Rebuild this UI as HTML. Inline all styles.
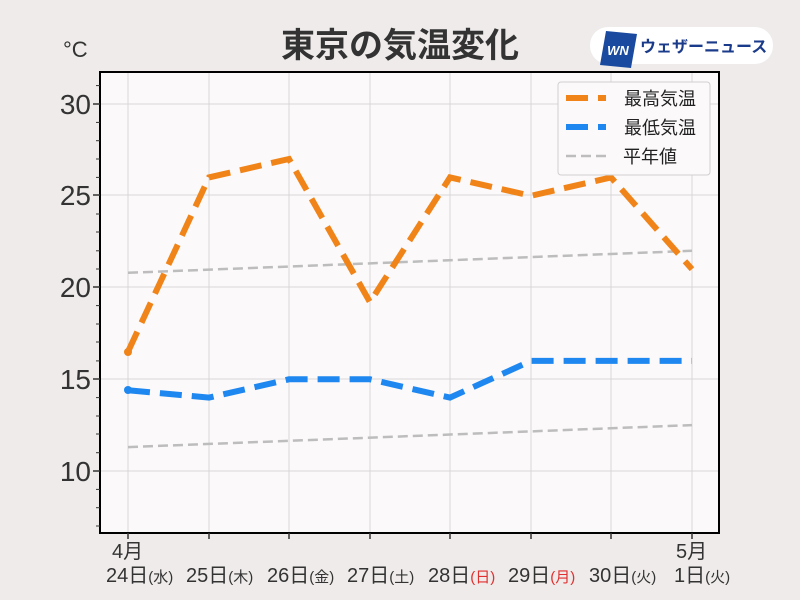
<!DOCTYPE html>
<html><head><meta charset="utf-8"><style>
body{margin:0;background:#eeebea;}
svg{display:block;font-family:"Liberation Sans","Noto Sans CJK JP",sans-serif;}
</style></head><body>
<svg width="800" height="600" viewBox="0 0 800 600">
<rect width="800" height="600" fill="#eeebea"/>
<text x="400" y="57" text-anchor="middle" font-size="34" font-weight="bold" fill="#333">東京の気温変化</text>
<rect x="590" y="27" width="183" height="37" rx="18" fill="#fff"/>
<polygon points="606,31 637,34 631,68 600,65" fill="#1a4aa0"/>
<text x="618" y="55" text-anchor="middle" font-size="13" font-weight="bold" font-style="italic" fill="#fff">WN</text>
<text x="640" y="52" font-size="16" font-weight="bold" fill="#1a3a8a">ウェザーニュース</text>
<text x="63" y="57" font-size="22" fill="#333">°C</text>
<rect x="100" y="72" width="619" height="461" fill="#fbf9fa"/>
<g stroke="#d8d8d8" stroke-width="1">
<line x1="128" y1="72" x2="128" y2="533"/><line x1="209" y1="72" x2="209" y2="533"/><line x1="289" y1="72" x2="289" y2="533"/><line x1="370" y1="72" x2="370" y2="533"/><line x1="450" y1="72" x2="450" y2="533"/><line x1="531" y1="72" x2="531" y2="533"/><line x1="611" y1="72" x2="611" y2="533"/><line x1="692" y1="72" x2="692" y2="533"/>
<line x1="100" y1="104" x2="719" y2="104"/><line x1="100" y1="195" x2="719" y2="195"/><line x1="100" y1="287" x2="719" y2="287"/><line x1="100" y1="379" x2="719" y2="379"/><line x1="100" y1="471" x2="719" y2="471"/>
</g>
<g fill="none" stroke="#bdbdbd" stroke-width="2.5" stroke-dasharray="10,5">
<polyline points="128,272.8 692,250.8"/><polyline points="128,447.1 692,425.1"/>
</g>
<polyline fill="none" stroke="#f08418" stroke-width="6" stroke-dasharray="22,10" points="128,351.7 209,177.4 289,159 370,302.2 450,177.4 531,195.8 611,177.4 692,269.2"/>
<circle cx="128" cy="352" r="4" fill="#f08418"/>
<polyline fill="none" stroke="#1e88f0" stroke-width="6" stroke-dasharray="22,10" points="128,390.3 209,397.6 289,379.3 370,379.3 450,397.6 531,360.9 611,360.9 692,360.9"/>
<circle cx="128" cy="390" r="4" fill="#1e88f0"/>
<rect x="100" y="72" width="619" height="461" fill="none" stroke="#000" stroke-width="2"/>
<g stroke="#333" stroke-width="1.5">
<line x1="93" y1="104" x2="100" y2="104"/><line x1="93" y1="195" x2="100" y2="195"/><line x1="93" y1="287" x2="100" y2="287"/><line x1="93" y1="379" x2="100" y2="379"/><line x1="93" y1="471" x2="100" y2="471"/>
</g>
<g stroke="#333" stroke-width="1">
<line x1="96" y1="85.6" x2="100" y2="85.6"/><line x1="96" y1="122.4" x2="100" y2="122.4"/><line x1="96" y1="140.7" x2="100" y2="140.7"/><line x1="96" y1="159" x2="100" y2="159"/><line x1="96" y1="177.4" x2="100" y2="177.4"/>
<line x1="96" y1="214" x2="100" y2="214"/><line x1="96" y1="232" x2="100" y2="232"/><line x1="96" y1="250.8" x2="100" y2="250.8"/><line x1="96" y1="269" x2="100" y2="269"/>
<line x1="96" y1="305.6" x2="100" y2="305.6"/><line x1="96" y1="324" x2="100" y2="324"/><line x1="96" y1="342" x2="100" y2="342"/><line x1="96" y1="360.9" x2="100" y2="360.9"/>
<line x1="96" y1="397.6" x2="100" y2="397.6"/><line x1="96" y1="416" x2="100" y2="416"/><line x1="96" y1="434" x2="100" y2="434"/><line x1="96" y1="452.7" x2="100" y2="452.7"/>
<line x1="96" y1="489.4" x2="100" y2="489.4"/><line x1="96" y1="507.7" x2="100" y2="507.7"/><line x1="96" y1="526" x2="100" y2="526"/>
</g>
<g stroke="#333" stroke-width="1.5">
<line x1="128" y1="533" x2="128" y2="539"/><line x1="209" y1="533" x2="209" y2="539"/><line x1="289" y1="533" x2="289" y2="539"/><line x1="370" y1="533" x2="370" y2="539"/><line x1="450" y1="533" x2="450" y2="539"/><line x1="531" y1="533" x2="531" y2="539"/><line x1="611" y1="533" x2="611" y2="539"/><line x1="692" y1="533" x2="692" y2="539"/>
</g>
<g font-size="28" fill="#333" text-anchor="end">
<text x="91" y="114">30</text><text x="91" y="205">25</text><text x="91" y="297">20</text><text x="91" y="389">15</text><text x="91" y="481">10</text>
</g>
<g font-size="20" fill="#333">
<text x="112" y="558">4月</text><text x="676" y="558">5月</text>
<text x="106" y="582">24日<tspan font-size="15">(水)</tspan></text>
<text x="186" y="582">25日<tspan font-size="15">(木)</tspan></text>
<text x="267" y="582">26日<tspan font-size="15">(金)</tspan></text>
<text x="347" y="582">27日<tspan font-size="15">(土)</tspan></text>
<text x="428" y="582">28日<tspan font-size="15" fill="#e03030">(日)</tspan></text>
<text x="508" y="582">29日<tspan font-size="15" fill="#e03030">(月)</tspan></text>
<text x="589" y="582">30日<tspan font-size="15">(火)</tspan></text>
<text x="674" y="582">1日<tspan font-size="15">(火)</tspan></text>
</g>
<rect x="558" y="82" width="152" height="93" rx="3" fill="#fbf9fa" stroke="#d0d0d0"/>
<line x1="566" y1="98" x2="606" y2="98" stroke="#f08418" stroke-width="6" stroke-dasharray="22,10"/>
<line x1="566" y1="127" x2="606" y2="127" stroke="#1e88f0" stroke-width="6" stroke-dasharray="22,10"/>
<line x1="566" y1="156" x2="606" y2="156" stroke="#bdbdbd" stroke-width="2.5" stroke-dasharray="10,5"/>
<g font-size="18" fill="#222">
<text x="624" y="105">最高気温</text><text x="624" y="134">最低気温</text><text x="623" y="163">平年値</text>
</g>
</svg>
</body></html>
